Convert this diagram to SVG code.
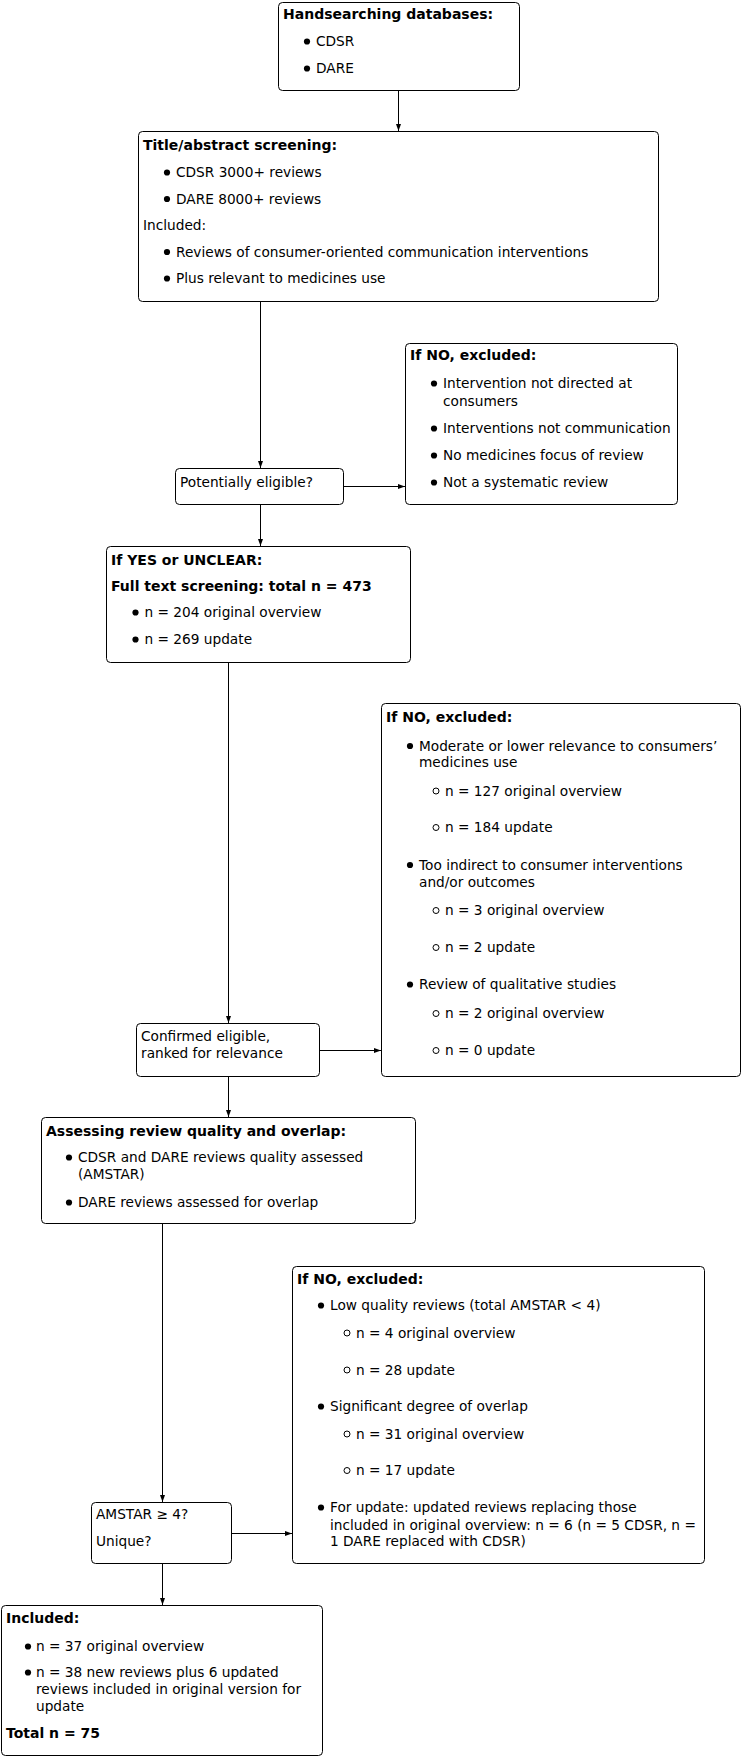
<svg xmlns="http://www.w3.org/2000/svg" width="743" height="1757" viewBox="0 0 743 1757">
<style>
.box{fill:#fff;stroke:#000;stroke-width:1}
text{font-family:"DejaVu Sans","Liberation Sans",sans-serif;font-size:13.7px;fill:#000}
.b{font-weight:bold;font-size:14px}
.dot{fill:#000}
.ring{fill:none;stroke:#000;stroke-width:1}
.conn line{stroke:#000;stroke-width:1}
</style>
<defs>
<marker id="ah" markerUnits="userSpaceOnUse" markerWidth="8" markerHeight="6" refX="7" refY="2.5" orient="auto">
<path d="M0,0 L7,2.5 L0,5 Z" fill="#000"/>
</marker>
</defs>
<rect width="743" height="1757" fill="#fff"/>
<g class="conn">
<line x1="398.5" y1="90" x2="398.5" y2="131" marker-end="url(#ah)"/>
<line x1="260.5" y1="301" x2="260.5" y2="468" marker-end="url(#ah)"/>
<line x1="343" y1="486.5" x2="405" y2="486.5" marker-end="url(#ah)"/>
<line x1="260.5" y1="504" x2="260.5" y2="546" marker-end="url(#ah)"/>
<line x1="228.5" y1="662" x2="228.5" y2="1023" marker-end="url(#ah)"/>
<line x1="319" y1="1050.5" x2="381" y2="1050.5" marker-end="url(#ah)"/>
<line x1="228.5" y1="1076" x2="228.5" y2="1117" marker-end="url(#ah)"/>
<line x1="162.5" y1="1223" x2="162.5" y2="1502" marker-end="url(#ah)"/>
<line x1="231" y1="1533.5" x2="292" y2="1533.5" marker-end="url(#ah)"/>
<line x1="162.5" y1="1563" x2="162.5" y2="1605" marker-end="url(#ah)"/>
</g>
<g id="handsearching">
<rect class="box" x="278.5" y="2.5" width="241" height="88" rx="4"/>
<text class="b" x="283" y="18.5">Handsearching databases:</text>
<circle class="dot" cx="307" cy="41.5" r="3.1"/><text x="316" y="46">CDSR</text>
<circle class="dot" cx="307" cy="68.5" r="3.1"/><text x="316" y="73">DARE</text>
</g>
<g id="title-abstract">
<rect class="box" x="138.5" y="131.5" width="520" height="170" rx="4"/>
<text class="b" x="143" y="149.5">Title/abstract screening:</text>
<circle class="dot" cx="167" cy="172.5" r="3.1"/><text x="176" y="177">CDSR 3000+ reviews</text>
<circle class="dot" cx="167" cy="199" r="3.1"/><text x="176" y="203.5">DARE 8000+ reviews</text>
<text x="143" y="230">Included:</text>
<circle class="dot" cx="167" cy="252" r="3.1"/><text x="176" y="256.5">Reviews of consumer-oriented communication interventions</text>
<circle class="dot" cx="167" cy="278.5" r="3.1"/><text x="176" y="283">Plus relevant to medicines use</text>
</g>
<g id="potentially-eligible">
<rect class="box" x="175.5" y="468.5" width="168" height="36" rx="4"/>
<text x="180" y="487">Potentially eligible?</text>
</g>
<g id="excluded-1">
<rect class="box" x="405.5" y="343.5" width="272" height="161" rx="4"/>
<text class="b" x="410" y="360">If NO, excluded:</text>
<circle class="dot" cx="434" cy="383.5" r="3.1"/><text x="443" y="388">Intervention not directed at</text>
<text x="443" y="405.5">consumers</text>
<circle class="dot" cx="434" cy="428.5" r="3.1"/><text x="443" y="433">Interventions not communication</text>
<circle class="dot" cx="434" cy="455.5" r="3.1"/><text x="443" y="460">No medicines focus of review</text>
<circle class="dot" cx="434" cy="482.5" r="3.1"/><text x="443" y="487">Not a systematic review</text>
</g>
<g id="full-text">
<rect class="box" x="106.5" y="546.5" width="304" height="116" rx="4"/>
<text class="b" x="111" y="565">If YES or UNCLEAR:</text>
<text class="b" x="111" y="591">Full text screening: total n = 473</text>
<circle class="dot" cx="135.5" cy="612.5" r="3.1"/><text x="144.5" y="617">n = 204 original overview</text>
<circle class="dot" cx="135.5" cy="639.5" r="3.1"/><text x="144.5" y="644">n = 269 update</text>
</g>
<g id="excluded-2">
<rect class="box" x="381.5" y="703.5" width="359" height="373" rx="4"/>
<text class="b" x="386" y="722">If NO, excluded:</text>
<circle class="dot" cx="410" cy="746" r="3.1"/><text x="419" y="750.5">Moderate or lower relevance to consumers’</text>
<text x="419" y="766.5">medicines use</text>
<circle class="ring" cx="436" cy="791" r="3"/><text x="445" y="795.5">n = 127 original overview</text>
<circle class="ring" cx="436" cy="827.5" r="3"/><text x="445" y="832">n = 184 update</text>
<circle class="dot" cx="410" cy="865" r="3.1"/><text x="419" y="869.5">Too indirect to consumer interventions</text>
<text x="419" y="887">and/or outcomes</text>
<circle class="ring" cx="436" cy="910.5" r="3"/><text x="445" y="915">n = 3 original overview</text>
<circle class="ring" cx="436" cy="947.5" r="3"/><text x="445" y="952">n = 2 update</text>
<circle class="dot" cx="410" cy="984.5" r="3.1"/><text x="419" y="989">Review of qualitative studies</text>
<circle class="ring" cx="436" cy="1013.5" r="3"/><text x="445" y="1018">n = 2 original overview</text>
<circle class="ring" cx="436" cy="1050.5" r="3"/><text x="445" y="1055">n = 0 update</text>
</g>
<g id="confirmed-eligible">
<rect class="box" x="136.5" y="1023.5" width="183" height="53" rx="4"/>
<text x="141" y="1041">Confirmed eligible,</text>
<text x="141" y="1058">ranked for relevance</text>
</g>
<g id="assessing">
<rect class="box" x="41.5" y="1117.5" width="374" height="106" rx="4"/>
<text class="b" x="46" y="1136">Assessing review quality and overlap:</text>
<circle class="dot" cx="69" cy="1157.5" r="3.1"/><text x="78" y="1162">CDSR and DARE reviews quality assessed</text>
<text x="78" y="1179">(AMSTAR)</text>
<circle class="dot" cx="69" cy="1202.5" r="3.1"/><text x="78" y="1207">DARE reviews assessed for overlap</text>
</g>
<g id="amstar">
<rect class="box" x="91.5" y="1502.5" width="140" height="61" rx="4"/>
<text x="96" y="1519">AMSTAR ≥ 4?</text>
<text x="96" y="1546">Unique?</text>
</g>
<g id="excluded-3">
<rect class="box" x="292.5" y="1266.5" width="412" height="297" rx="4"/>
<text class="b" x="297" y="1284">If NO, excluded:</text>
<circle class="dot" cx="321" cy="1305.5" r="3.1"/><text x="330" y="1310">Low quality reviews (total AMSTAR &lt; 4)</text>
<circle class="ring" cx="347" cy="1333" r="3"/><text x="356" y="1337.5">n = 4 original overview</text>
<circle class="ring" cx="347" cy="1370" r="3"/><text x="356" y="1374.5">n = 28 update</text>
<circle class="dot" cx="321" cy="1406.5" r="3.1"/><text x="330" y="1411">Significant degree of overlap</text>
<circle class="ring" cx="347" cy="1434" r="3"/><text x="356" y="1438.5">n = 31 original overview</text>
<circle class="ring" cx="347" cy="1470.5" r="3"/><text x="356" y="1475">n = 17 update</text>
<circle class="dot" cx="321" cy="1507.5" r="3.1"/><text x="330" y="1512">For update: updated reviews replacing those</text>
<text x="330" y="1529.5">included in original overview: n = 6 (n = 5 CDSR, n =</text>
<text x="330" y="1546">1 DARE replaced with CDSR)</text>
</g>
<g id="included">
<rect class="box" x="1.5" y="1605.5" width="321" height="150" rx="4"/>
<text class="b" x="6" y="1623">Included:</text>
<circle class="dot" cx="28" cy="1646.5" r="3.1"/><text x="36" y="1651">n = 37 original overview</text>
<circle class="dot" cx="28" cy="1672.5" r="3.1"/><text x="36" y="1677">n = 38 new reviews plus 6 updated</text>
<text x="36" y="1694">reviews included in original version for</text>
<text x="36" y="1711">update</text>
<text class="b" x="6" y="1738">Total n = 75</text>
</g>
</svg>
